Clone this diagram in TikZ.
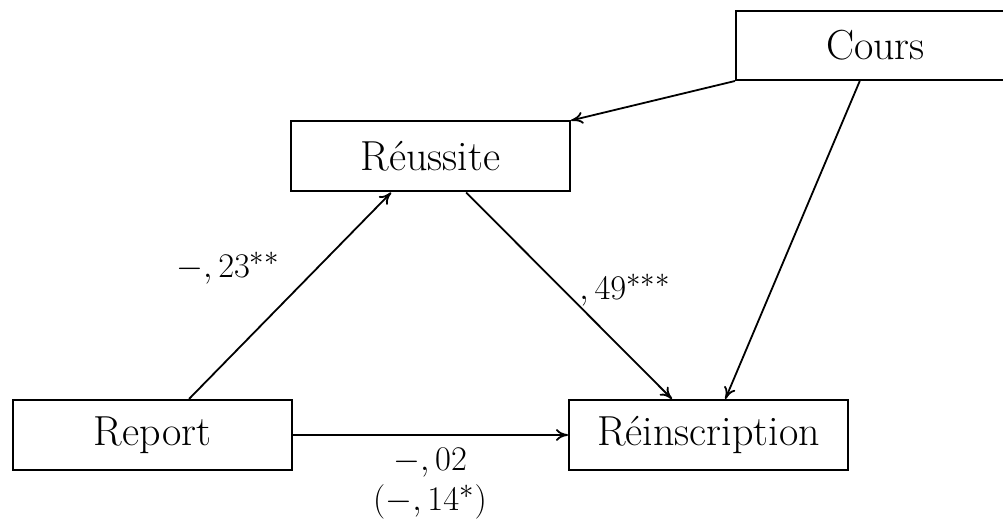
\documentclass[tikz,border=0pt]{standalone}
\usetikzlibrary{calc,arrows.meta}
\begin{document}
\begin{tikzpicture}[x=0.5pt,y=-0.5pt,
  every node/.style={font=\fontsize{19}{20}\selectfont},
  varbox/.style={draw,line width=1pt,rectangle,minimum width=139.5pt,minimum height=35pt,inner sep=0pt,font=\fontsize{21}{24}\selectfont},
  lab/.style={inner sep=0pt},
  conn/.style={line width=0.9pt,-{To[length=6pt,width=6pt]}}]
\useasboundingbox (0,0) rectangle (1003,523);
\clip (0,0) rectangle (1003,523);
\node[varbox] (rep) at (152.5,435) {Report};
\node[varbox] (rei) at (708.5,435) {R\'einscription};
\node[varbox] (reu) at (430.5,156.5) {R\'eussite};
\node[varbox,minimum height=34.5pt] (cou) at (875.5,45.5) {Cours};
\draw[conn] (cou.south west) -- (reu.north east);
\draw[conn] ($(rep.north west)!0.63!(rep.north east)$) -- ($(reu.south west)!0.36!(reu.south east)$);
\draw[conn] ($(reu.south west)!0.627!(reu.south east)$) -- ($(rei.north west)!0.37!(rei.north east)$);
\draw[conn] ($(cou.south west)!0.444!(cou.south east)$) -- ($(rei.north west)!0.56!(rei.north east)$);
\draw[conn] (rep.east) -- (rei.west);
\node[lab] (l1) at (228,268) {$-,23^{**}$};
\node[lab] (l2) at (625,290) {$,49^{***}$};
\node[lab,align=center] (l3) at (430,484) {$-,02$\\$(-,14^{*})$};
\end{tikzpicture}
\end{document}
